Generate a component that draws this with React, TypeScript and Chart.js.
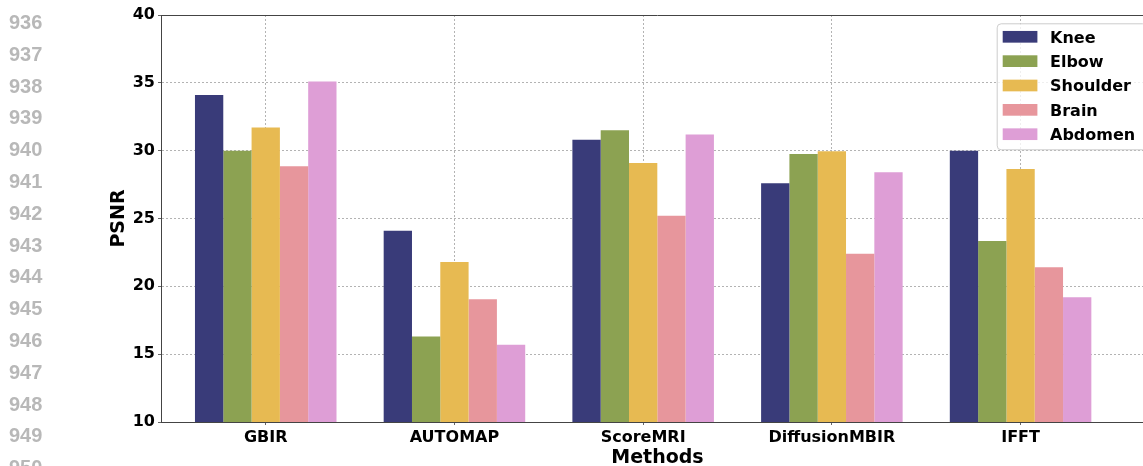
import React, { useEffect, useRef } from "react";
import { Chart, registerables } from "chart.js";

Chart.register(...registerables);

// ---- data ----
const categories = ["GBIR", "AUTOMAP", "ScoreMRI", "DiffusionMBIR", "IFFT"];
const seriesNames = ["Knee", "Elbow", "Shoulder", "Brain", "Abdomen"];
const knee = [34.1, 24.1, 30.8, 27.6, 30.0];
const elbow = [30.0, 16.3, 31.5, 29.75, 23.35];
const shoulder = [31.7, 21.8, 29.1, 29.95, 28.65];
const brain = [28.85, 19.05, 25.2, 22.4, 21.4];
const abdomen = [35.1, 15.7, 31.2, 28.4, 19.2];
const seriesValues = [knee, elbow, shoulder, brain, abdomen];
const colors = ["#393b79", "#8ca252", "#e7ba52", "#e7969c", "#de9ed6"];
const yMin = 10;
const yMax = 40;
const yStep = 5;
const lineNumbers = [936, 937, 938, 939, 940, 941, 942, 943, 944, 945, 946, 947, 948, 949, 950];

const FONT = '"DejaVu Sans", sans-serif';

const decorPlugin = {
  id: "decor",
  afterDraw(chart: any) {
    const { ctx, chartArea: ca } = chart;
    ctx.save();
    // top spine
    ctx.strokeStyle = "#444";
    ctx.lineWidth = 1;
    ctx.setLineDash([]);
    ctx.beginPath();
    const ty = Math.round(ca.top) + 0.5;
    ctx.moveTo(ca.left, ty);
    ctx.lineTo(ca.right, ty);
    ctx.stroke();

    // legend
    const left = ca.right - 157.3;
    const right = ca.right - 8;
    const top = ca.top + 8.3;
    const bottom = ca.top + 134.3;
    ctx.beginPath();
    ctx.roundRect(left + 0.5, top + 0.5, right - left, bottom - top, 4);
    ctx.fillStyle = "rgba(255,255,255,0.8)";
    ctx.fill();
    ctx.strokeStyle = "#cccccc";
    ctx.lineWidth = 1;
    ctx.stroke();
    ctx.font = `bold 16px ${FONT}`;
    ctx.textAlign = "left";
    ctx.textBaseline = "alphabetic";
    seriesNames.forEach((name, i) => {
      const cy = ca.top + 21.8 + i * 24.35;
      ctx.fillStyle = colors[i];
      ctx.fillRect(left + 6, cy - 5.85, 34.7, 11.7);
      ctx.fillStyle = "#000";
      ctx.fillText(name, left + 53.3, cy + 5.8);
    });

    // line numbers
    ctx.font = 'bold 20px "Liberation Sans", Arial, sans-serif';
    ctx.fillStyle = "#b8b8b8";
    lineNumbers.forEach((n, i) => {
      ctx.fillText(String(n), 9, 29 + i * 31.8);
    });
    ctx.restore();
  },
};

export default function App() {
  const ref = useRef<HTMLCanvasElement | null>(null);

  useEffect(() => {
    if (!ref.current) return;
    const gridOpts = {
      offset: false,
      color: "rgba(128,128,128,0.6)",
      lineWidth: 1,
      drawTicks: true,
      tickLength: 3,
      tickColor: "#666",
      tickBorderDash: [],
    };
    const borderOpts = { display: true, color: "#444", width: 1, dash: [2, 2] };
    const chart = new Chart(ref.current, {
      type: "bar",
      data: {
        datasets: seriesNames.map((name, s) => ({
          label: name,
          data: seriesValues[s].map((v, i) => ({ x: i, y: v })),
          backgroundColor: colors[s],
          borderWidth: 0,
          categoryPercentage: 0.75,
          barPercentage: 1,
        })),
      },
      options: {
        animation: false,
        responsive: false,
        devicePixelRatio: 1,
        layout: { padding: { top: 15, right: 6, left: 0, bottom: 0 } },
        plugins: { legend: { display: false }, tooltip: { enabled: false } },
        scales: {
          x: {
            type: "linear",
            min: -0.555,
            max: 4.707,
            offset: false,
            z: 1,
            afterBuildTicks(scale: any) {
              scale.ticks = categories.map((_, i) => ({ value: i }));
            },
            afterFit(scale: any) {
              scale.height = 58;
            },
            grid: gridOpts,
            border: borderOpts,
            ticks: {
              autoSkip: false,
              maxRotation: 0,
              padding: 3,
              color: "#000",
              font: { family: FONT, size: 16, weight: "bold" },
              callback: (v: any) => categories[v] ?? "",
            },
            title: {
              display: true,
              text: "Methods",
              color: "#000",
              font: { family: FONT, size: 19, weight: "bold" },
              padding: { top: 0, bottom: 11 },
            },
          },
          y: {
            type: "linear",
            min: yMin,
            max: yMax,
            z: 1,
            afterFit(scale: any) {
              scale.width = 161;
            },
            grid: gridOpts,
            border: borderOpts,
            ticks: {
              stepSize: yStep,
              padding: 3,
              color: "#000",
              font: { family: FONT, size: 16, weight: "bold" },
            },
            title: {
              display: true,
              text: "PSNR",
              color: "#000",
              font: { family: FONT, size: 19, weight: "bold" },
              padding: { top: 108, bottom: 0 },
            },
          },
        },
      },
      plugins: [decorPlugin],
    } as any);
    return () => chart.destroy();
  }, []);

  return (
    <div
      style={{
        position: "absolute",
        left: 0,
        top: 0,
        width: 1143,
        height: 466,
        overflow: "hidden",
        background: "#fff",
      }}
    >
      <canvas ref={ref} width={1160} height={480} style={{ display: "block" }} />
    </div>
  );
}
